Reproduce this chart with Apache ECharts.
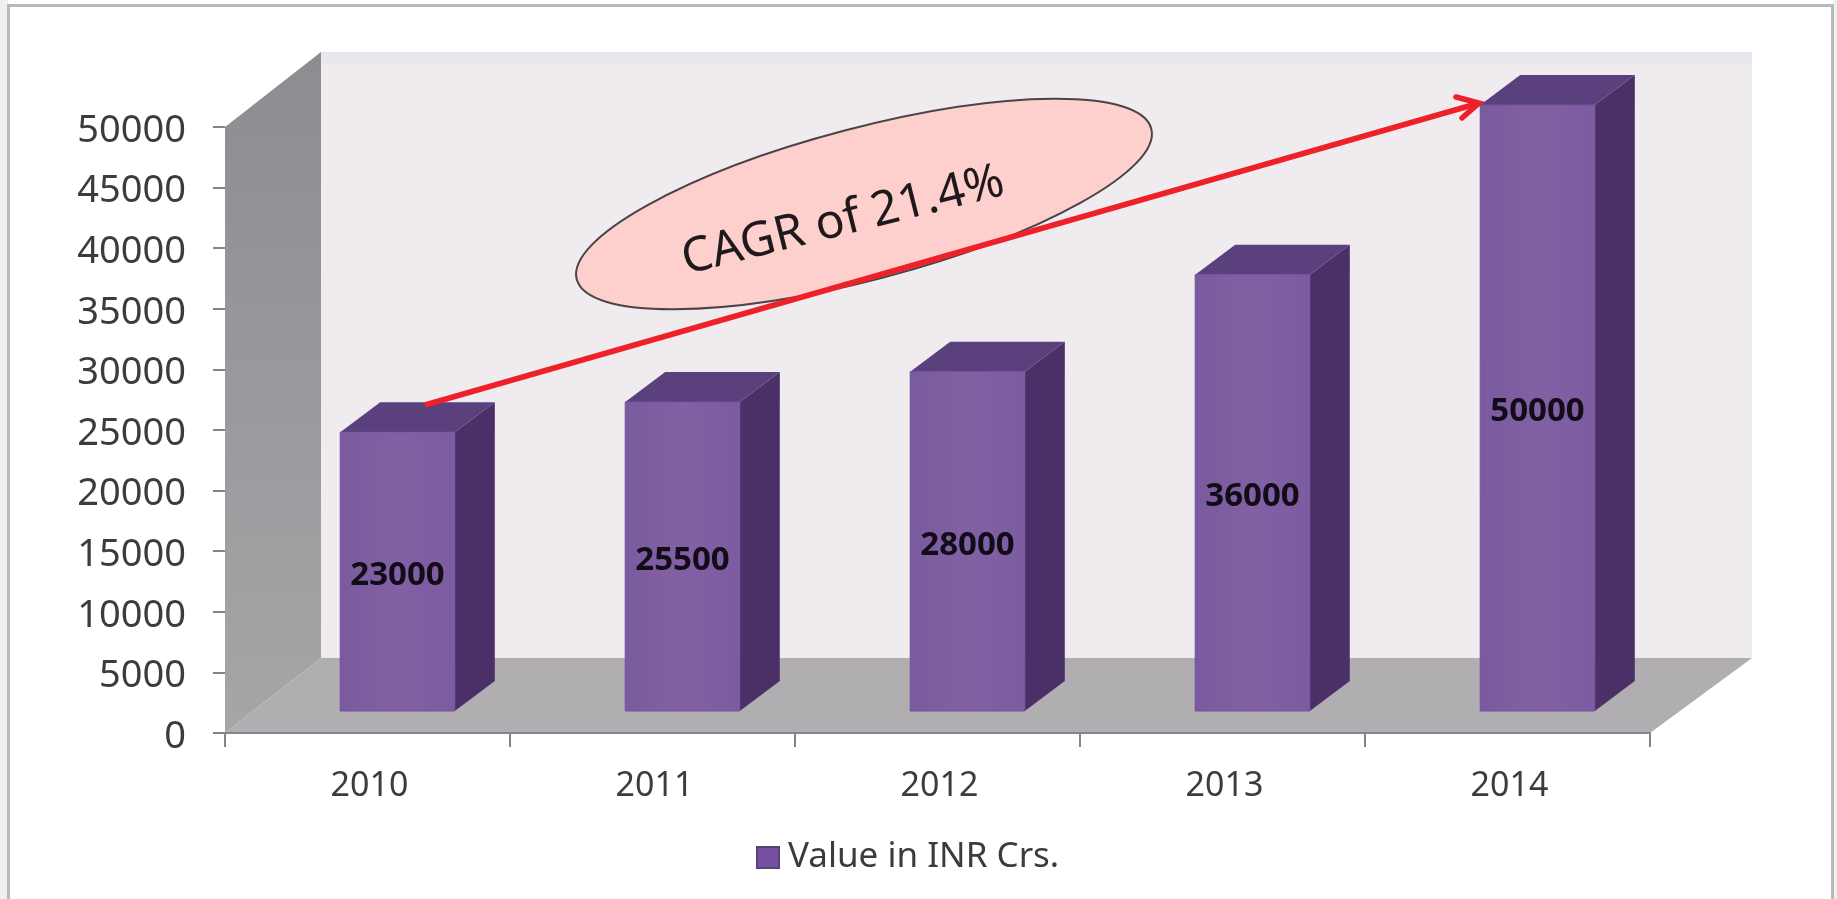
<!DOCTYPE html>
<html>
<head>
<meta charset="utf-8">
<title>Value in INR Crs.</title>
<style>
  html, body { margin: 0; padding: 0; background: #fff; }
  #chart { width: 1837px; height: 899px; }
</style>
<script src="https://cdn.jsdelivr.net/npm/echarts@6/dist/echarts.min.js"></script>
</head>
<body>
<div id="chart"></div>
<script>
  const years = ['2010', '2011', '2012', '2013', '2014']
  const values = [23000, 25500, 28000, 36000, 50000]
  const seriesName = 'Value in INR Crs.'
  const calloutText = 'CAGR of 21.4%'

  const fontFamily = '"Noto Sans", sans-serif'

  // 3d look: how far the floor and the bars are pushed back
  const wallDepth = { x: 96, y: 75, extraRight: 6 }
  const barShift = { x: 30, y: 22 }
  const barDepth = { x: 40, y: 30 }

  function poly (points, fill, z2) {
    return { type: 'polygon', shape: { points: points }, style: { fill: fill }, z2: z2 || 0, silent: true }
  }

  function renderWalls (params) {
    const g = params.coordSys
    const x0 = g.x
    const x1 = g.x + g.width
    const yTop = g.y
    const yBase = g.y + g.height
    const bx0 = x0 + wallDepth.x
    const bx1 = x1 + wallDepth.x + wallDepth.extraRight
    const byTop = yTop - wallDepth.y
    const byBase = yBase - wallDepth.y
    return {
      type: 'group',
      children: [
        poly([[bx0, byTop], [bx1, byTop], [bx1, byBase], [bx0, byBase]], '#efebef'),
        poly([[bx0, byTop], [bx1, byTop], [bx1, byTop + 12], [bx0, byTop + 12]], '#e9e7ed', 1),
        poly([[x0, yTop], [bx0, byTop], [bx0, byBase], [x0, yBase]], {
          type: 'linear', x: 0, y: 0, x2: 0, y2: 1,
          colorStops: [{ offset: 0, color: '#8f8c91' }, { offset: 1, color: '#a8a5a9' }]
        }, 2),
        poly([[x0, yBase], [bx0, byBase], [bx1, byBase], [x1, yBase]], '#b1aeb2', 3)
      ]
    }
  }

  function renderBar (params, api) {
    const idx = api.value(0)
    const val = api.value(1)
    const top = api.coord([idx, val])
    const base = api.coord([idx, 0])
    const w = api.size([1, 0])[0] * 0.402
    const x0 = top[0] + barShift.x - w / 2
    const x1 = x0 + w
    const yT = top[1] - barShift.y
    const yB = base[1] - barShift.y
    const dx = barDepth.x
    const dy = barDepth.y
    return {
      type: 'group',
      children: [
        poly([[x1, yT], [x1 + dx, yT - dy], [x1 + dx, yB - dy], [x1, yB]], '#4a3066'),
        poly([[x0, yT], [x0 + dx, yT - dy], [x1 + dx, yT - dy], [x1, yT]], '#5a407d', 1),
        {
          type: 'rect',
          shape: { x: x0, y: yT, width: w, height: yB - yT },
          style: {
            fill: {
              type: 'linear', x: 0, y: 0, x2: 1, y2: 0,
              colorStops: [{ offset: 0, color: '#7a5a9e' }, { offset: 0.5, color: '#8260a4' }, { offset: 1, color: '#7c5ba0' }]
            },
            stroke: '#7252a0',
            lineWidth: 1
          },
          z2: 2
        },
        {
          type: 'text',
          x: (x0 + x1) / 2,
          y: (yT + yB) / 2 + 4,
          style: {
            text: String(val),
            font: 'bold 33px ' + fontFamily,
            fill: '#120c18',
            align: 'center',
            verticalAlign: 'middle'
          },
          z2: 3
        }
      ]
    }
  }

  const chart = echarts.init(document.getElementById('chart'))
  chart.setOption({
    animation: false,
    backgroundColor: '#fff',
    grid: { left: 225, top: 127, width: 1425, height: 606 },
    legend: {
      data: [seriesName],
      left: 751,
      top: 835,
      icon: 'rect',
      itemWidth: 22,
      itemHeight: 21,
      textStyle: { fontFamily: fontFamily, fontSize: 35, color: '#3c3c3c', padding: [0, 0, 0, 4] },
      selectedMode: false
    },
    xAxis: {
      type: 'category',
      data: years,
      z: 5,
      axisLine: { lineStyle: { color: '#86848a', width: 2 } },
      axisTick: { show: true, length: 14, lineStyle: { color: '#86848a', width: 2 } },
      axisLabel: { margin: 36, fontFamily: fontFamily, fontSize: 34, color: '#3c3c3c', padding: [0, 0, 0, 4] },
      splitLine: { show: false }
    },
    yAxis: {
      type: 'value',
      min: 0,
      max: 50000,
      interval: 5000,
      z: 5,
      axisLine: { show: false },
      axisTick: { show: true, length: 12, lineStyle: { color: '#86848a', width: 2 } },
      axisLabel: {
        margin: 39,
        formatter: function (v) { return '{t|' + v + '}' }, // no thousands comma
        rich: {
          t: { fontFamily: fontFamily, fontSize: 38, color: '#3c3c3c', padding: [8, 0, 0, 0] }
        }
      },
      splitLine: { show: false }
    },
    series: [
      {
        type: 'custom',
        name: 'walls',
        silent: true,
        z: 1,
        data: [0],
        renderItem: renderWalls
      },
      {
        type: 'custom',
        name: seriesName,
        z: 3,
        itemStyle: { color: '#7452a0', borderColor: '#5a407d', borderWidth: 1 },
        encode: { x: 0, y: 1 },
        data: values.map(function (v, i) { return [i, v] }),
        renderItem: renderBar
      }
    ],
    graphic: [
      // slide frame around the chart
      { type: 'rect', z: 0, silent: true, shape: { x: 0, y: 0, width: 8, height: 899 }, style: { fill: '#eef0ef' } },
      { type: 'rect', z: 0, silent: true, shape: { x: 1833, y: 0, width: 4, height: 899 }, style: { fill: '#eef0ef' } },
      { type: 'rect', z: 0, silent: true, shape: { x: 8.5, y: 5.5, width: 1824, height: 910 }, style: { fill: 'none', stroke: '#b9b9b9', lineWidth: 3 } },
      // callout
      {
        type: 'ellipse',
        z: 10,
        silent: true,
        x: 864,
        y: 204,
        rotation: 14.7 * Math.PI / 180,
        shape: { cx: 0, cy: 0, rx: 297, ry: 76 },
        style: { fill: '#fdd0ce', stroke: '#4a4446', lineWidth: 2 }
      },
      {
        type: 'text',
        z: 11,
        silent: true,
        x: 843,
        y: 221,
        rotation: 14 * Math.PI / 180,
        style: {
          text: calloutText,
          font: '48px ' + fontFamily,
          fill: '#1e1a1c',
          align: 'center',
          verticalAlign: 'middle'
        }
      },
      // growth arrow
      {
        type: 'line',
        z: 12,
        silent: true,
        shape: { x1: 425, y1: 405, x2: 1476, y2: 104 },
        style: { stroke: '#ee2029', lineWidth: 5.5 }
      },
      {
        type: 'polyline',
        z: 12,
        silent: true,
        shape: { points: [[1456, 97], [1479, 103], [1462, 118]] },
        style: { stroke: '#ee2029', lineWidth: 5.5, fill: 'none', lineCap: 'round' }
      }
    ]
  })
</script>
</body>
</html>
